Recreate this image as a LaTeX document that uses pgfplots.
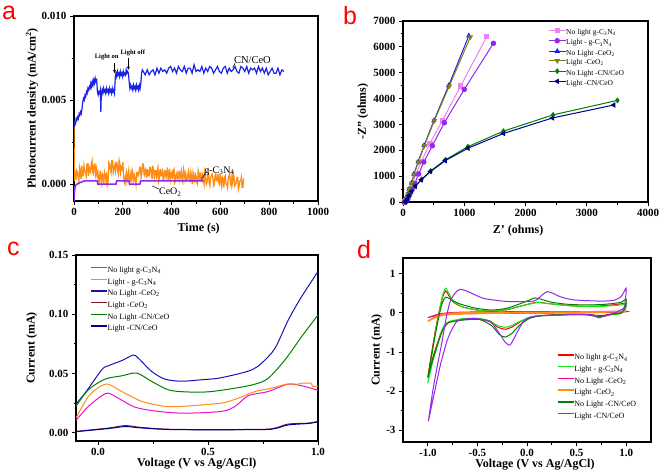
\documentclass[border=0pt]{standalone}
\usepackage{fontspec}
\setmainfont{Liberation Serif}
\setsansfont{Liberation Sans}
\usepackage{pgfplots}
\pgfplotsset{compat=1.18}
\definecolor{cBlue}{RGB}{25,35,230}
\definecolor{cOrange}{RGB}{255,140,20}
\definecolor{cViolet}{RGB}{145,40,235}
\definecolor{cPink}{RGB}{238,130,238}
\definecolor{cOlive}{RGB}{128,128,20}
\definecolor{cGreen}{RGB}{0,128,0}
\definecolor{cNavy}{RGB}{0,0,139}
\definecolor{cMag}{RGB}{230,20,200}
\definecolor{cMaroon}{RGB}{120,20,50}
\definecolor{cTop}{RGB}{20,20,180}
\definecolor{cBright}{RGB}{20,230,20}
\definecolor{cRed}{RGB}{255,0,0}
\pgfplotsset{
  panel/.style={
    scale only axis,
    axis line style={line width=1.3pt},
    every tick/.style={black, line width=0.9pt},
    tick align=outside,
    xtick pos=lower, ytick pos=left,
    major tick length=4pt, minor tick length=2.5pt,
    tick label style={font=\fontsize{11}{11}\selectfont\bfseries},
    label style={font=\fontsize{12}{12}\selectfont\bfseries},
    /pgf/number format/assume math mode=true,
    /pgf/number format/1000 sep={},
    legend cell align=left,
  },
  lineleg/.style={
    legend image code/.code={\draw[##1, line width=1.4pt] (0pt,2.8pt) -- (16pt,2.8pt);},
  },
}
\begin{document}
\begin{tikzpicture}[x=1pt,y=1pt]
\path[use as bounding box] (0,0) rectangle (661,475);
% ---------------- panel a (photocurrent in units of 1e-4 mA/cm^2) ----------------
\begin{axis}[panel, at={(74pt,274pt)}, anchor=south west, width=244pt, height=185pt,
  xmin=0, xmax=1000, ymin=-10, ymax=100,
  xtick={0,200,400,600,800,1000}, minor x tick num=1,
  ytick={0,50,100}, yticklabels={0.000,0.005,0.010}, minor y tick num=1,
  xlabel={Time (s)}, ylabel={Photocurrent density (mA/cm\textsuperscript{2})},
  xlabel style={at={(axis description cs:0.511,-0.151)}, anchor=center},
  ylabel style={at={(axis description cs:-0.172,0.5)}, anchor=center},
]
\addplot[cOrange, line width=1.3pt] coordinates {(0,35)(1,2)(2,9)(5,3)(8,3)(11,8)(14,7)(17,4)(20,2)(23,10)(26,8)(29,3)(32,11)(35,5)(38,5)(41,11)(44,8)(47,7)(50,5)(53,12)(56,12)(59,5)(62,10)(65,8)(68,7)(71,12)(74,14)(77,7)(80,6)(83,12)(86,12)(89,6)(92,9)(95,5)(98,7)(101,2)(104,1)(107,8)(110,4)(113,1)(116,6)(119,5)(122,0)(125,7)(128,5)(131,2)(134,7)(137,0)(140,2)(143,13)(146,12)(149,9)(152,7)(155,14)(158,14)(161,7)(164,9)(167,11)(170,8)(173,13)(176,13)(179,8)(182,6)(185,14)(188,12)(191,7)(194,10)(197,9)(200,13)(203,6)(206,1)(209,0)(212,5)(215,7)(218,2)(221,5)(224,8)(227,1)(230,3)(233,6)(236,1)(239,8)(242,6)(245,2)(248,5)(251,3)(254,0)(257,7)(260,7)(263,5)(266,6)(269,10)(272,10)(275,4)(278,7)(281,12)(284,12)(287,6)(290,5)(293,9)(296,8)(299,4)(302,9)(305,5)(308,5)(311,10)(314,10)(317,6)(320,3)(323,11)(326,8)(329,4)(332,8)(335,8)(338,3)(341,8)(344,10)(347,2)(350,4)(353,9)(356,5)(359,5)(362,9)(365,3)(368,3)(371,8)(374,8)(377,4)(380,6)(383,10)(386,2)(389,5)(392,9)(395,3)(398,6)(401,7)(404,3)(407,8)(410,9)(413,1)(416,2)(419,6)(422,7)(425,3)(428,4)(431,8)(434,3)(437,6)(440,8)(443,2)(446,1)(449,9)(452,7)(455,3)(458,6)(461,2)(464,2)(467,6)(470,8)(473,3)(476,2)(479,7)(482,4)(485,0)(488,7)(491,5)(494,1)(497,6)(500,5)(503,1)(506,0)(509,8)(512,6)(515,2)(518,7)(521,3)(524,2)(527,7)(530,3)(533,0)(536,7)(539,4)(542,0)(545,1)(548,5)(551,7)(554,1)(557,-1)(560,4)(563,5)(566,6)(569,4)(572,-1)(575,0)(578,5)(581,6)(584,2)(587,2)(590,6)(593,1)(596,0)(599,6)(602,2)(605,-1)(608,4)(611,3)(614,-2)(617,4)(620,5)(623,0)(626,0)(629,-2)(632,3)(635,5)(638,6)(641,1)(644,-1)(647,4)(650,1)(653,6)(656,4)(659,-1)(662,0)(665,1)(668,4)(671,4)(674,-3)(677,-1)(680,2)(683,2)(686,4)(689,-2)(692,-2)(695,3)(698,3)};
\addplot[cBlue, line width=1.2pt] coordinates {(0,34)(3,37)(6,36)(9,39)(12,38)(15,40)(18,39)(21,42)(24,41)(27,43)(30,42)(33,45)(36,49)(39,51)(42,50)(45,53)(48,52)(51,55)(54,54)(57,57)(60,56)(63,58)(66,57)(69,60)(72,58)(75,61)(78,59)(81,62)(84,60)(87,63)(90,61)(93,62)(96,55)(99,53)(102,55)(105,54)(108,56)(110,43)(112,54)(115,56)(118,54)(121,57)(124,55)(127,56)(130,54)(133,57)(136,55)(139,56)(142,54)(145,57)(148,55)(151,56)(154,54)(157,57)(160,55)(163,56)(166,54)(169,63)(172,66)(175,64)(178,67)(181,65)(184,66)(187,64)(190,67)(193,65)(196,66)(199,64)(202,67)(205,65)(208,66)(211,65)(214,68)(217,66)(220,67)(223,66)(226,61)(229,57)(232,59)(235,57)(238,58)(241,56)(244,59)(247,57)(250,58)(253,56)(256,59)(259,57)(262,58)(265,56)(268,59)(271,57)(274,60)(277,66)(280,68)(284,67)(292,65)(300,68)(308,65)(316,67)(324,68)(332,65)(340,69)(348,66)(356,69)(364,67)(372,68)(380,66)(388,69)(396,70)(404,67)(412,69)(420,66)(428,70)(436,68)(444,67)(452,70)(460,66)(468,69)(476,69)(484,66)(492,71)(500,67)(508,68)(516,67)(524,70)(532,66)(540,69)(548,67)(556,70)(564,69)(572,66)(580,68)(588,70)(596,67)(604,66)(612,69)(620,70)(628,66)(636,69)(644,67)(652,68)(660,70)(668,67)(676,66)(684,70)(692,69)(700,67)(708,70)(716,66)(724,69)(732,68)(740,69)(748,66)(756,70)(764,67)(772,69)(780,66)(788,69)(796,65)(804,67)(812,69)(820,66)(828,66)(836,69)(844,65)(852,68)(860,67)};
\addplot[cViolet, line width=1.6pt] coordinates {(0,-10)(2,-4)(5,-1)(12,0)(25,1)(45,2)(95,2)(98,0)(172,0)(175,2)(225,2)(228,0)(270,0)(273,2)(530,2)};
\node[font=\fontsize{10.5}{10.5}\selectfont, anchor=west, inner sep=0pt] at (axis cs:655,74) {CN/CeO};
\draw[line width=0.5pt] (axis cs:660,72) -- (axis cs:650,69);
\node[font=\fontsize{10}{10}\selectfont, anchor=west, inner sep=0pt] at (axis cs:533,7.8) {g-C\textsubscript{3}N\textsubscript{4}};
\draw[line width=0.5pt] (axis cs:536,6) -- (axis cs:522,3);
\node[font=\fontsize{10}{10}\selectfont, anchor=west, inner sep=0pt] at (axis cs:348,-4.8) {CeO\textsubscript{2}};
\draw[line width=0.5pt] (axis cs:350,-3) -- (axis cs:320,-1);
\node[font=\fontsize{6.5}{6.5}\selectfont\bfseries, inner sep=0pt] at (axis cs:134,75.7) {Light on};
\draw[-stealth, line width=0.5pt] (axis cs:166,72) -- (axis cs:166,66);
\node[font=\fontsize{6.5}{6.5}\selectfont\bfseries, inner sep=0pt] at (axis cs:241,78.3) {Light off};
\draw[-stealth, line width=0.5pt] (axis cs:223,75) -- (axis cs:223,68);
\end{axis}
% ---------------- panel b ----------------
\begin{axis}[panel, at={(403pt,273pt)}, anchor=south west, width=245pt, height=181pt,
  xmin=0, xmax=4000, ymin=0, ymax=7000,
  xtick={0,1000,2000,3000,4000}, ytick={0,1000,2000,3000,4000,5000,6000,7000},
  minor x tick num=1, minor y tick num=1,
  scaled x ticks=false, scaled y ticks=false,
  xlabel={Z' (ohms)}, ylabel={-Z'' (ohms)},
  xlabel style={at={(axis description cs:0.47,-0.160)}, anchor=center},
  ylabel style={at={(axis description cs:-0.163,0.5)}, anchor=center},
  mark size=2.2pt,
  legend style={draw=none, fill=none, at={(0.592,0.962)}, anchor=north west,
    font=\fontsize{7.5}{7.5}\selectfont, inner sep=0pt, row sep=2pt,
    nodes={inner sep=0pt, text height=5.5pt, text depth=2pt},
    /tikz/every even column/.append style={column sep=2pt}},
  legend image code/.code={\draw[mark repeat=2,mark phase=2,#1] plot coordinates {(0pt,2.5pt) (8.5pt,2.5pt) (17pt,2.5pt)};},
]
\addplot[cPink, line width=1pt, mark=square*] coordinates {(25,0)(40,40)(60,130)(90,280)(120,480)(160,720)(210,1080)(300,1560)(440,2270)(642,3144)(942,4490)(1368,6396)};
\addlegendentry{No light g-C\textsubscript{3}N\textsubscript{4}}
\addplot[cViolet, line width=1pt, mark=*] coordinates {(35,0)(55,40)(80,130)(110,280)(150,480)(196,723)(255,1083)(340,1547)(479,2177)(675,3067)(1001,4357)(1476,6139)};
\addlegendentry{Light - g-C\textsubscript{3}N\textsubscript{4}}
\addplot[cBlue, line width=1pt, mark=triangle*] coordinates {(20,0)(40,50)(58,150)(78,300)(100,500)(140,730)(178,1080)(248,1555)(345,2190)(505,3150)(745,4500)(1075,6430)};
\addlegendentry{No Light -CeO\textsubscript{2}}
\addplot[cOlive, line width=1pt, mark=triangle*, mark options={rotate=180}] coordinates {(20,0)(40,50)(60,150)(80,300)(100,500)(142,723)(180,1071)(250,1547)(348,2177)(511,3144)(756,4486)(1100,6380)};
\addlegendentry{Light -CeO\textsubscript{2}}
\addplot[cGreen, line width=1pt, mark=diamond*] coordinates {(35,0)(50,50)(70,130)(100,260)(140,420)(200,620)(300,870)(450,1200)(690,1630)(1060,2140)(1640,2740)(2450,3370)(3500,3930)};
\addlegendentry{No Light -CN/CeO}
\addplot[cNavy, line width=1pt, mark=triangle*, mark options={rotate=90}] coordinates {(35,0)(50,40)(70,120)(100,250)(140,410)(200,610)(300,860)(450,1180)(690,1600)(1060,2080)(1640,2650)(2440,3250)(3440,3750)};
\addlegendentry{Light -CN/CeO}
\end{axis}
% ---------------- panel c ----------------
\begin{axis}[panel, lineleg, at={(76pt,34pt)}, anchor=south west, width=242pt, height=186pt,
  xmin=-0.1, xmax=1.0, ymin=-0.007, ymax=0.15,
  xtick={0,0.5,1}, xticklabels={0.0,0.5,1.0}, minor x tick num=1,
  ytick={0,0.05,0.1,0.15}, yticklabels={0.00,0.05,0.10,0.15}, minor y tick num=1,
  scaled y ticks=false,
  xlabel={Voltage (V vs Ag/AgCl)}, ylabel={Current (mA)},
  xlabel style={at={(axis description cs:0.499,-0.124)}, anchor=center},
  ylabel style={at={(axis description cs:-0.183,0.5)}, anchor=center},
  legend style={draw=none, fill=none, at={(0.058,0.94)}, anchor=north west,
    font=\fontsize{8}{8}\selectfont, inner sep=0pt, row sep=3.7pt,
    nodes={inner sep=0pt, text height=6pt, text depth=2pt},
    /tikz/every even column/.append style={column sep=2pt}},
]
\addplot[cMag, line width=1pt, smooth, tension=0.5] coordinates {(-0.1,0.0104)(-0.044,0.0222)(0.017,0.0312)(0.047,0.0334)(0.092,0.0292)(0.168,0.0216)(0.274,0.018)(0.395,0.0165)(0.562,0.018)(0.623,0.0222)(0.683,0.0312)(0.774,0.0348)(0.865,0.041)(0.941,0.039)(1.0,0.0356)};
\addlegendentry{No light g-C\textsubscript{3}N\textsubscript{4}}
\addplot[cOrange, line width=1pt, smooth, tension=0.4] coordinates {(-0.1,0.0124)(-0.044,0.0306)(0.009,0.039)(0.047,0.041)(0.108,0.0348)(0.199,0.0264)(0.305,0.0222)(0.38,0.0222)(0.562,0.025)(0.638,0.0292)(0.714,0.0348)(0.789,0.0376)(0.857,0.041)(0.91,0.041)(0.926,0.0418)(0.968,0.0418)(0.976,0.039)(1.0,0.0394)};
\addlegendentry{Light - g-C\textsubscript{3}N\textsubscript{4}}
\addplot[cTop, line width=1pt, smooth, tension=0.5] coordinates {(-0.1,0.0242)(-0.059,0.0334)(0.017,0.0531)(0.047,0.0565)(0.108,0.0609)(0.16,0.0655)(0.183,0.063)(0.244,0.0517)(0.305,0.0452)(0.38,0.0435)(0.471,0.0447)(0.547,0.046)(0.638,0.0497)(0.699,0.0531)(0.744,0.0587)(0.805,0.0714)(0.865,0.0952)(0.926,0.115)(1.0,0.136)};
\addlegendentry{No Light -CeO\textsubscript{2}}
\addplot[cMaroon, line width=1pt, smooth, tension=0.5] coordinates {(-0.1,0.0011)(0.047,0.0039)(0.124,0.006)(0.199,0.0044)(0.35,0.0028)(0.73,0.0028)(0.805,0.0039)(0.865,0.0073)(0.956,0.0081)(1.0,0.0096)};
\addlegendentry{Light -CeO\textsubscript{2}}
\addplot[cGreen, line width=1pt, smooth, tension=0.5] coordinates {(-0.1,0.0222)(-0.044,0.0362)(0.032,0.0452)(0.108,0.048)(0.176,0.0503)(0.244,0.0433)(0.32,0.0362)(0.395,0.0345)(0.5,0.0345)(0.623,0.0376)(0.714,0.041)(0.774,0.046)(0.85,0.0615)(0.926,0.0812)(1.0,0.0994)};
\addlegendentry{No Light -CN/CeO}
\addplot[cNavy, line width=1pt, smooth, tension=0.5] coordinates {(-0.1,0.0009)(0.047,0.0035)(0.124,0.0052)(0.199,0.0040)(0.35,0.0026)(0.73,0.0026)(0.805,0.0035)(0.865,0.0066)(0.956,0.0078)(1.0,0.0092)};
\addlegendentry{Light -CN/CeO}
\end{axis}
% ---------------- panel d ----------------
\begin{axis}[panel, lineleg, at={(403pt,33pt)}, anchor=south west, width=248pt, height=184pt,
  xmin=-1.25, xmax=1.25, ymin=-3.3, ymax=1.4,
  xtick={-1,-0.5,0,0.5,1}, xticklabels={-1.0,-0.5,0.0,0.5,1.0}, minor x tick num=1,
  ytick={-3,-2,-1,0,1}, yticklabels={-3,-2,-1,0,1}, minor y tick num=1,
  xlabel={Voltage (V vs Ag/AgCl)}, ylabel={Current (mA)},
  xlabel style={at={(axis description cs:0.532,-0.125)}, anchor=center},
  ylabel style={at={(axis description cs:-0.106,0.5)}, anchor=center},
  legend style={draw=none, fill=none, at={(0.62,0.48)}, anchor=north west,
    font=\fontsize{8}{8}\selectfont, inner sep=0pt, row sep=3.7pt,
    nodes={inner sep=0pt, text height=6pt, text depth=2pt},
    /tikz/every even column/.append style={column sep=2.3pt}},
]
\addplot[cRed, line width=1pt, smooth, tension=0.4] coordinates {(-1.0,-1.65)(-0.96,-1.0)(-0.92,-0.4)(-0.88,0.1)(-0.85,0.4)(-0.82,0.56)(-0.79,0.45)(-0.74,0.27)(-0.65,0.15)(-0.5,0.07)(-0.35,0.04)(-0.2,0.08)(-0.05,0.18)(0.1,0.27)(0.2,0.24)(0.35,0.2)(0.5,0.17)(0.7,0.17)(0.85,0.2)(0.95,0.23)(1.0,0.25)(0.99,0.1)(0.95,0.0)(0.85,-0.03)(0.75,-0.07)(0.65,-0.05)(0.5,-0.04)(0.3,-0.05)(0.13,-0.07)(0.02,-0.12)(-0.08,-0.25)(-0.15,-0.36)(-0.22,-0.42)(-0.3,-0.36)(-0.38,-0.22)(-0.5,-0.16)(-0.65,-0.17)(-0.75,-0.22)(-0.8,-0.25)(-0.85,-0.4)(-0.9,-0.75)(-0.95,-1.15)(-1.0,-1.65)};
\addlegendentry{No light g-C\textsubscript{3}N\textsubscript{4}}
\addplot[cBright, line width=1pt, smooth, tension=0.4] coordinates {(-1.0,-1.8)(-0.96,-1.1)(-0.92,-0.45)(-0.88,0.1)(-0.85,0.45)(-0.82,0.63)(-0.79,0.5)(-0.74,0.29)(-0.65,0.15)(-0.5,0.07)(-0.35,0.04)(-0.2,0.09)(-0.05,0.18)(0.1,0.26)(0.2,0.24)(0.35,0.2)(0.5,0.17)(0.7,0.16)(0.85,0.18)(0.95,0.2)(1.0,0.22)(0.99,0.08)(0.95,-0.02)(0.85,-0.05)(0.75,-0.1)(0.65,-0.06)(0.5,-0.05)(0.3,-0.06)(0.13,-0.08)(0.02,-0.12)(-0.08,-0.23)(-0.15,-0.32)(-0.22,-0.37)(-0.3,-0.32)(-0.38,-0.2)(-0.5,-0.14)(-0.65,-0.15)(-0.75,-0.2)(-0.8,-0.24)(-0.85,-0.4)(-0.9,-0.8)(-0.95,-1.25)(-1.0,-1.8)};
\addlegendentry{Light - g-C\textsubscript{3}N\textsubscript{4}}
\addplot[magenta, line width=1pt, smooth, tension=0.4] coordinates {(-1.0,-0.12)(-0.95,-0.08)(-0.9,-0.04)(-0.8,0.0)(-0.6,0.02)(0,0.03)(0.5,0.03)(1.0,0.04)(0.9,0.01)(0.5,0.0)(0,-0.01)(-0.6,-0.02)(-0.8,-0.04)(-0.9,-0.07)(-1.0,-0.12)};
\addlegendentry{No Light -CeO\textsubscript{2}}
\addplot[cOrange, line width=1.5pt, smooth, tension=0.4] coordinates {(-1.0,-0.22)(-0.95,-0.14)(-0.9,-0.08)(-0.8,-0.02)(-0.6,0.0)(0,0.01)(0.5,0.02)(1.0,0.03)(0.5,0.01)(0,0.0)(-0.6,-0.02)(-0.85,-0.06)(-0.95,-0.15)(-1.0,-0.22)};
\addlegendentry{Light -CeO\textsubscript{2}}
\addplot[cGreen, line width=1pt, smooth, tension=0.4] coordinates {(-1.0,-1.65)(-0.96,-1.05)(-0.92,-0.5)(-0.88,0.0)(-0.85,0.28)(-0.82,0.40)(-0.78,0.36)(-0.7,0.25)(-0.6,0.17)(-0.5,0.11)(-0.35,0.07)(-0.2,0.12)(-0.05,0.25)(0.08,0.38)(0.15,0.34)(0.25,0.27)(0.4,0.22)(0.6,0.2)(0.8,0.22)(0.95,0.27)(1.0,0.35)(0.99,0.15)(0.95,0.0)(0.85,-0.04)(0.72,-0.1)(0.6,-0.05)(0.45,-0.04)(0.3,-0.05)(0.13,-0.08)(0.02,-0.15)(-0.08,-0.33)(-0.15,-0.52)(-0.22,-0.62)(-0.28,-0.55)(-0.36,-0.32)(-0.48,-0.17)(-0.62,-0.18)(-0.75,-0.22)(-0.8,-0.27)(-0.85,-0.45)(-0.9,-0.8)(-0.95,-1.2)(-1.0,-1.65)};
\addlegendentry{No Light -CN/CeO}
\addplot[cViolet, line width=1pt, smooth, tension=0.4] coordinates {(-0.994,-2.77)(-0.95,-2.0)(-0.90,-1.3)(-0.859,-0.77)(-0.82,-0.2)(-0.775,0.29)(-0.72,0.52)(-0.674,0.6)(-0.6,0.55)(-0.438,0.37)(-0.202,0.29)(0.067,0.30)(0.15,0.45)(0.202,0.54)(0.26,0.5)(0.336,0.41)(0.47,0.33)(0.74,0.30)(0.875,0.32)(0.95,0.42)(1.0,0.63)(0.99,0.3)(0.976,0.12)(0.875,-0.01)(0.76,-0.1)(0.723,-0.13)(0.68,-0.08)(0.64,-0.04)(0.41,-0.05)(0.067,-0.09)(-0.034,-0.22)(-0.1,-0.5)(-0.169,-0.82)(-0.22,-0.75)(-0.27,-0.56)(-0.371,-0.22)(-0.539,-0.14)(-0.65,-0.17)(-0.707,-0.22)(-0.758,-0.43)(-0.808,-0.73)(-0.87,-1.3)(-0.93,-2.0)(-0.994,-2.77)};
\addlegendentry{Light -CN/CeO}
\end{axis}
% panel letters
\node[anchor=base west, inner sep=0pt, text=red, font=\fontsize{25}{25}\selectfont\sffamily] at (2,455) {a};
\node[anchor=base west, inner sep=0pt, text=red, font=\fontsize{25}{25}\selectfont\sffamily] at (343,450) {b};
\node[anchor=base west, inner sep=0pt, text=red, font=\fontsize{25}{25}\selectfont\sffamily] at (7,220) {c};
\node[anchor=base west, inner sep=0pt, text=red, font=\fontsize{25}{25}\selectfont\sffamily] at (357,217) {d};
\end{tikzpicture}
\end{document}
